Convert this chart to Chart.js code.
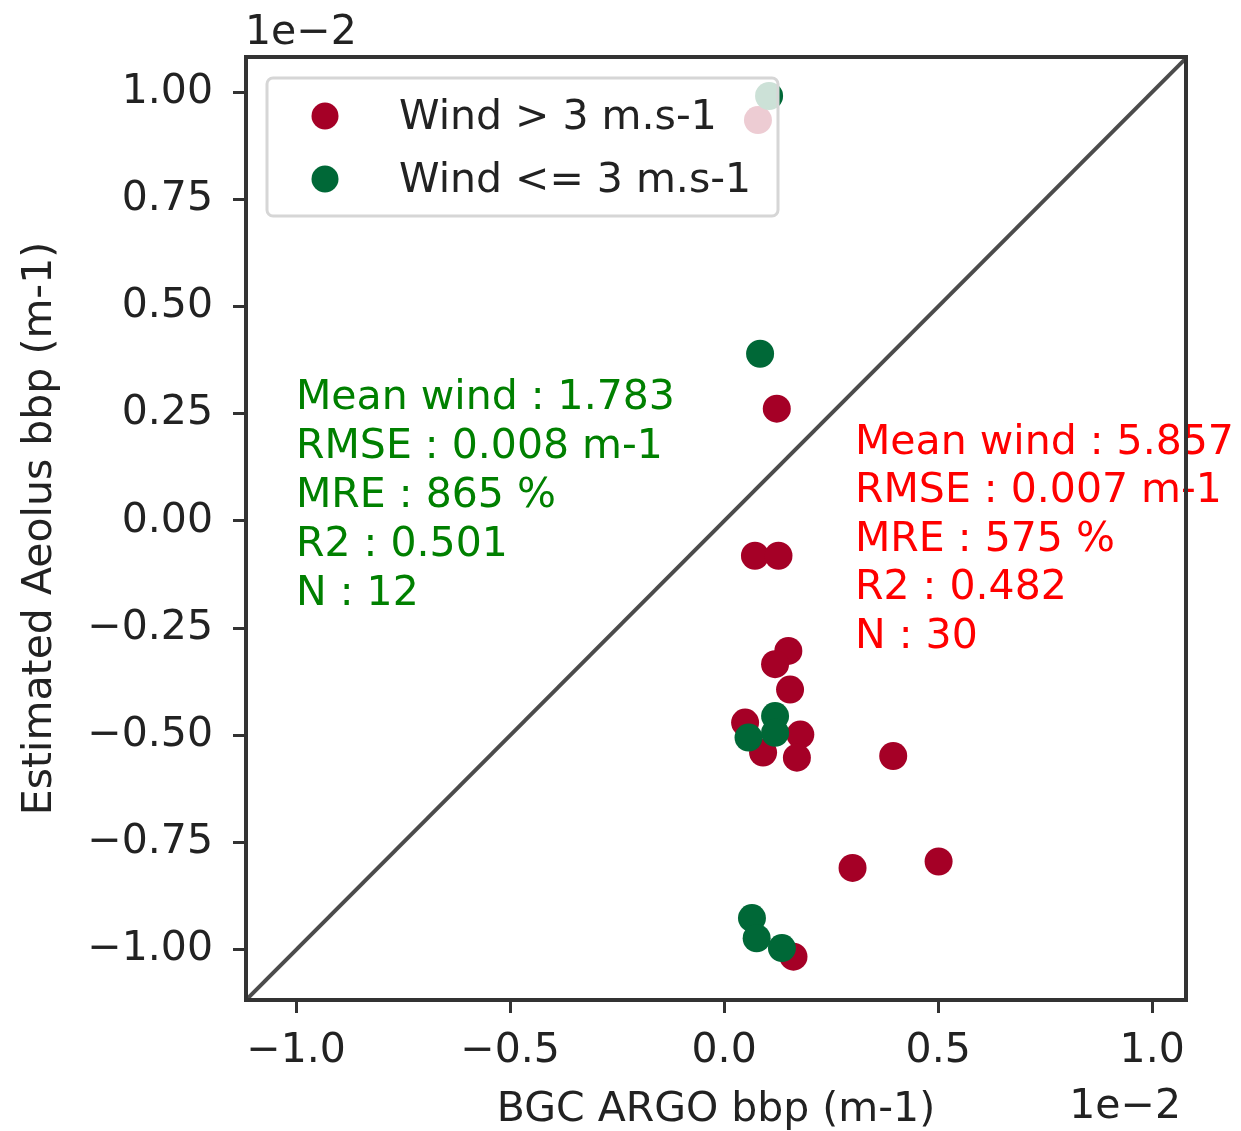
<!DOCTYPE html>
<html>
<head>
<meta charset="utf-8">
<script src="https://cdn.jsdelivr.net/npm/chart.js@4/dist/chart.umd.min.js"></script>
<style>
  body { margin: 0; background: #fff; }
  canvas { display: block; }
</style>
</head>
<body>
<canvas id="chart" width="1241" height="1131"></canvas>
<script>
// data (units of 1e-2 m-1)
const redX = [0.079, 0.123, 0.072, 0.127, 0.150, 0.119, 0.154, 0.049, 0.178, 0.170, 0.091, 0.395, 0.300, 0.501, 0.162];
const redY = [0.935, 0.262, -0.081, -0.081, -0.303, -0.334, -0.393, -0.470, -0.498, -0.552, -0.540, -0.548, -0.809, -0.794, -1.016];
const greenX = [0.105, 0.084, 0.119, 0.057, 0.119, 0.065, 0.076, 0.135];
const greenY = [0.991, 0.390, -0.455, -0.505, -0.494, -0.926, -0.973, -0.996];
const xTicks = [-1.0, -0.5, 0.0, 0.5, 1.0];
const yTicks = [-1.0, -0.75, -0.5, -0.25, 0.0, 0.25, 0.5, 0.75, 1.0];
const legendLabels = ['Wind > 3 m.s-1', 'Wind <= 3 m.s-1'];
const greenStats = ['Mean wind : 1.783', 'RMSE : 0.008 m-1', 'MRE : 865 %', 'R2 : 0.501', 'N : 12'];
const redStats = ['Mean wind : 5.857', 'RMSE : 0.007 m-1', 'MRE : 575 %', 'R2 : 0.482', 'N : 30'];

const RED = '#a50026';
const GREEN = '#006837';
const FONT = '"DejaVu Sans", sans-serif';

function toPoints(xs, ys) {
    return xs.map(function(x, i) { return {x: x, y: ys[i]}; });
}
function minus(v) {
    return String(v).replace('-', '\u2212');
}

// extra drawing: stats text, legend, offset labels, frame
const extras = {
    id: 'extras',
    afterDatasetsDraw(chart) {
        const ctx = chart.ctx;
        ctx.save();
        ctx.font = '41px ' + FONT;
        ctx.textBaseline = 'middle';
        ctx.textAlign = 'left';
        ctx.fillStyle = 'green';
        greenStats.forEach(function(t, i) { ctx.fillText(t, 296, 398 + i * 49); });
        ctx.fillStyle = 'red';
        redStats.forEach(function(t, i) { ctx.fillText(t, 855, 443 + i * 48.5); });
        ctx.restore();
    },
    afterDraw(chart) {
        const ctx = chart.ctx;
        const a = chart.chartArea;
        ctx.save();
        // legend
        ctx.beginPath();
        ctx.roundRect(267, 78, 511, 138, 6);
        ctx.fillStyle = 'rgba(255,255,255,0.8)';
        ctx.fill();
        ctx.lineWidth = 3;
        ctx.strokeStyle = '#d6d6d6';
        ctx.stroke();
        [RED, GREEN].forEach(function(c, i) {
            ctx.beginPath();
            ctx.arc(325, 116 + i * 63, 13.5, 0, Math.PI * 2);
            ctx.fillStyle = c;
            ctx.fill();
        });
        ctx.font = '41px ' + FONT;
        ctx.fillStyle = '#222';
        ctx.textBaseline = 'middle';
        legendLabels.forEach(function(t, i) { ctx.fillText(t, 399, 118 + i * 63); });
        // offset text
        ctx.fillText('1e\u22122', 245, 33);
        ctx.textAlign = 'right';
        ctx.fillText('1e\u22122', 1181, 1107);
        // frame
        ctx.lineWidth = 4;
        ctx.strokeStyle = '#333';
        ctx.strokeRect(a.left, a.top, a.right - a.left, a.bottom - a.top);
        ctx.restore();
    }
};

const ctx = document.getElementById('chart').getContext('2d');
let chart = new Chart(ctx, {
    type: 'scatter',
    data: {
        datasets: [
            {
                label: legendLabels[0],
                data: toPoints(redX, redY),
                backgroundColor: RED,
                borderWidth: 0,
                pointRadius: 14,
                order: 2
            },
            {
                label: legendLabels[1],
                data: toPoints(greenX, greenY),
                backgroundColor: GREEN,
                borderWidth: 0,
                pointRadius: 14,
                order: 1
            },
            {
                type: 'line',
                label: '1:1',
                data: [{x: -1.3, y: -1.3}, {x: 1.3, y: 1.3}],
                borderColor: 'rgba(30,30,30,0.8)',
                borderWidth: 4,
                pointRadius: 0,
                order: 3
            }
        ]
    },
    options: {
        responsive: false,
        animation: false,
        layout: { padding: { top: 57, right: 55, left: 0, bottom: 0 } },
        plugins: {
            legend: { display: false },
            tooltip: { enabled: false }
        },
        scales: {
            x: {
                type: 'linear',
                min: -1.117,
                max: 1.079,
                afterFit: function(s) { s.height = 131; },
                afterBuildTicks: function(s) { s.ticks = xTicks.map(function(v) { return {value: v}; }); },
                grid: { drawOnChartArea: false, drawTicks: true, tickLength: 13, tickWidth: 3, color: '#333' },
                border: { display: true, color: '#333', width: 4 },
                ticks: {
                    font: { family: FONT, size: 41 },
                    color: '#222',
                    padding: 14,
                    maxRotation: 0,
                    callback: function(v) { return minus(Number(v).toFixed(1)); }
                },
                title: {
                    display: true,
                    text: 'BGC ARGO bbp (m-1)',
                    font: { family: FONT, size: 41 },
                    color: '#222',
                    padding: { top: 0, bottom: -4 }
                }
            },
            y: {
                type: 'linear',
                min: -1.117,
                max: 1.082,
                afterFit: function(s) { s.width = 246; },
                afterBuildTicks: function(s) { s.ticks = yTicks.map(function(v) { return {value: v}; }); },
                grid: { drawOnChartArea: false, drawTicks: true, tickLength: 13, tickWidth: 3, color: '#333' },
                border: { display: true, color: '#333', width: 4 },
                ticks: {
                    font: { family: FONT, size: 41 },
                    color: '#222',
                    padding: 20,
                    callback: function(v) { return minus(Number(v).toFixed(2)); }
                },
                title: {
                    display: true,
                    text: 'Estimated Aeolus bbp (m-1)',
                    font: { family: FONT, size: 41 },
                    color: '#222',
                    padding: { top: 16, bottom: 0 }
                }
            }
        }
    },
    plugins: [extras]
});
</script>
</body>
</html>
